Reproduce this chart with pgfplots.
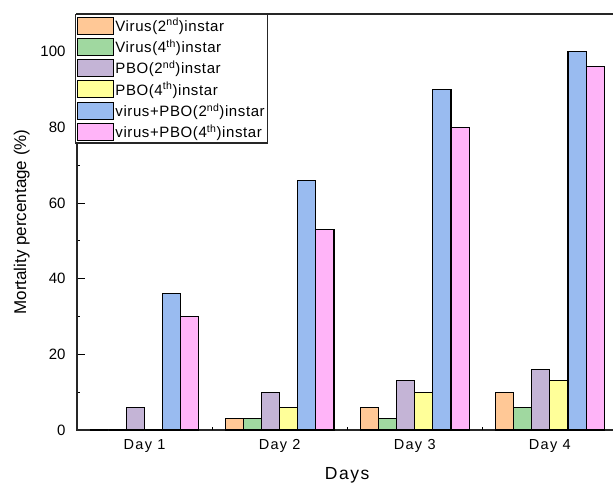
\documentclass[border=0pt]{standalone}
\usepackage{pgfplots}
\pgfplotsset{compat=1.18}
\usepackage{fontspec}
\setmainfont{Liberation Sans}
\newfontfamily\lsp[LetterSpace=9]{Liberation Sans}
\newfontfamily\legf[LetterSpace=4]{Liberation Sans}
\definecolor{cOr}{RGB}{255,200,150}
\definecolor{cGr}{RGB}{160,216,160}
\definecolor{cPu}{RGB}{196,180,214}
\definecolor{cYe}{RGB}{255,255,153}
\definecolor{cBl}{RGB}{153,187,240}
\definecolor{cPi}{RGB}{255,180,248}
\begin{document}
\begin{tikzpicture}
\begin{axis}[
  name=ax,
  scale only axis,
  width=540.4pt, height=416pt,
  xmin=0.5, xmax=4.5,
  ymin=0, ymax=110,
  axis line style={line width=1.1pt, black!85},
  ybar=0pt, bar width=18.1pt,
  xtick={0.5,1.5,2.5,3.5},
  xticklabels={Day 1,Day 2,Day 3,Day 4},
  x tick label style={font=\lsp\fontsize{14.5}{16}\selectfont, yshift=-6pt, xshift=67.55pt},
  xtick pos=left, ytick pos=left,
  ytick={0,20,...,100},
  minor y tick num=1,
  tick align=inside,
  major tick length=8pt, minor tick length=3.5pt,
  major x tick style={line width=1pt, black, /pgfplots/major tick length=3.5pt},
  ytick style={line width=1pt, black},
  y tick label style={font=\fontsize{15}{17}\selectfont, xshift=-8pt},
  /pgf/number format/assume math mode=true,
  xlabel={Days}, ylabel={Mortality percentage (\%)},
  xlabel style={font=\lsp\fontsize{17.5}{19}\selectfont, yshift=-8pt},
  ylabel style={font=\fontsize{17}{19}\selectfont, yshift=4pt},
  legend style={at={(-0.003,1)}, anchor=north west, draw=black!85, line width=1.1pt,
    font=\legf\fontsize{15}{16}\selectfont, inner xsep=1.5pt, inner ysep=2pt, row sep=3.3pt,
    cells={anchor=west}, nodes={inner sep=1pt}},
  legend cell align=left,
  legend image code/.code={\draw[#1, draw=black, line width=1pt] (0pt,-8.5pt) rectangle (36pt,8.5pt);},
  every axis plot/.append style={draw=black, line width=1.1pt},
  after end axis/.code={
    \foreach \t in {1.5,2.5,3.5}{\draw[black, line width=1pt] (axis cs:\t,0) -- ++(0,3.5pt);}
  },
]
\addplot[fill=cOr] coordinates {(1,0) (2,3) (3,6) (4,10)};
\addplot[fill=cGr] coordinates {(1,0) (2,3) (3,3) (4,6)};
\addplot[fill=cPu] coordinates {(1,6) (2,10) (3,13) (4,16)};
\addplot[fill=cYe] coordinates {(1,0) (2,6) (3,10) (4,13)};
\addplot[fill=cBl] coordinates {(1,36) (2,66) (3,90) (4,100)};
\addplot[fill=cPi] coordinates {(1,30) (2,53) (3,80) (4,96)};
\legend{Virus(2\textsuperscript{nd})instar, Virus(4\textsuperscript{th})instar, PBO(2\textsuperscript{nd})instar, PBO(4\textsuperscript{th})instar, virus+PBO(2\textsuperscript{nd})instar, virus+PBO(4\textsuperscript{th})instar}
\end{axis}
\pgfresetboundingbox
\path ([xshift=-77pt,yshift=-57pt]ax.south west) rectangle ([xshift=-4.4pt,yshift=14pt]ax.north east);
\end{tikzpicture}
\end{document}
